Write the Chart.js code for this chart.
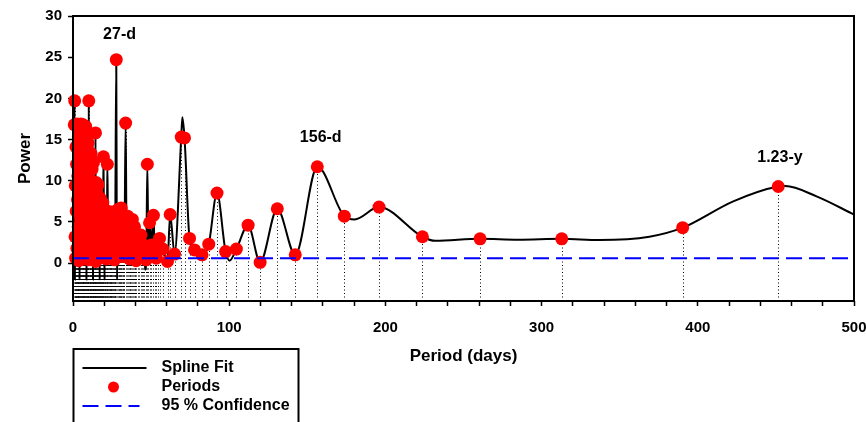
<!DOCTYPE html>
<html>
<head>
<meta charset="utf-8">
<script src="https://cdn.jsdelivr.net/npm/chart.js@4.4.1/dist/chart.umd.min.js"></script>
<style>
  html, body { margin: 0; padding: 0; background: #fff; }
  #wrap { width: 866px; height: 422px; position: relative; }
</style>
</head>
<body>
<div id="wrap"><canvas id="chart"></canvas></div>
<script>
// periodogram peaks: period in days and spectral power
var periodDays = [
  0.8, 1.1, 1.3, 1.5, 1.7, 1.9, 2.1, 2.3, 2.5, 2.7, 2.9, 3.1, 3.3, 3.5, 3.7, 3.9,
  4.1, 4.3, 4.5, 4.7, 4.9, 5.1, 5.3, 5.5, 5.7, 5.9, 6.1, 6.3, 6.5, 6.7, 6.9, 7.1,
  7.3, 7.5, 7.7, 7.9, 8.1, 8.3, 8.5, 8.7, 8.9, 9.1, 9.3, 9.5, 9.7, 9.9, 10.1, 10.3,
  10.6, 10.8, 11.0, 11.2, 11.4, 11.6, 11.8, 12.0, 12.2, 12.5, 12.7, 12.9, 13.1, 13.4,
  13.6, 13.8, 14.0, 14.4, 14.6, 14.8, 15.0, 15.3, 15.6, 15.9, 16.1, 16.4, 16.7, 17.0,
  17.3, 17.6, 17.9, 18.2, 18.5, 18.8, 19.1, 19.5, 19.8, 20.1, 20.4, 20.7, 21.0, 21.3,
  21.6, 22.0, 22.3, 22.6, 23.0, 23.4, 23.8, 24.2, 24.6, 25.0, 25.4, 25.8, 26.2, 26.6,
  27.0, 27.7, 28.7, 29.2, 29.8, 30.3, 30.9, 31.5, 32.2, 32.9, 33.7, 35.0, 36.2, 37.3,
  38.3, 39.4, 40.4, 41.5, 43.5, 44.6, 46.9, 47.6, 49.0, 51.5, 53.3, 55.4, 57.5, 60.5,
  62.2, 65.0, 69.3, 71.4, 74.6, 77.8, 82.6, 86.9, 92.2, 97.7, 104.6, 112.1, 119.8, 130.8,
  142.3, 156.4, 173.7, 195.9, 223.7, 260.6, 312.9, 390.3, 451.5,
  // crowded short-period band
  12.3, 13.3, 14.2, 15.2, 16.2, 16.9, 18.0, 18.6, 19.3, 20.6, 21.8, 22.8, 23.6, 24.4,
  25.2, 26.0, 26.9, 28.0, 29.5, 30.6, 31.9, 32.6, 34.3, 35.6, 36.8, 38.0, 39.0, 40.0,
  42.4, 44.0, 45.4, 48.3, 50.2, 52.3, 54.3
];
var periodPower = [
  16.8, 19.7, 3.2, 9.4, 0.6, 14.1, 6.3, 12.0, 1.8, 16.9, 7.7, 10.6, 4.4, 15.4, 0.3, 13.0,
  8.5, 16.7, 2.6, 11.3, 5.4, 16.9, 9.9, 1.2, 14.6, 7.0, 12.7, 3.6, 16.8, 8.1, 0.5, 15.2,
  10.4, 4.9, 13.6, 2.1, 16.6, 6.0, 11.8, 0.9, 15.9, 9.0, 13.9, 3.0, 14.6, 7.4, 19.7, 0.4,
  5.6, 12.9, 1.5, 10.1, 4.0, 13.3, 7.9, 0.8, 11.4, 2.8, 9.2, 5.1, 12.2, 1.1,
  8.4, 3.7, 6.5, 15.8, 0.2, 9.8, 4.5, 7.3, 1.9, 5.9, 9.5, 2.4, 6.8, 0.7,
  7.9, 3.3, 5.2, 1.3, 6.4, 2.9, 7.3, 12.9, 4.6, 0.9, 6.1, 2.2, 5.0, 0.5,
  3.9, 12.0, 6.3, 1.4, 4.8, 2.6, 5.9, 0.6, 4.1, 6.2, 1.7, 3.5, 5.3, 0.4,
  2.9, 24.7, 6.5, 1.2, 4.0, 2.3, 6.7, 0.8, 4.6, 2.5, 17.0, 5.7, 0.5, 2.8,
  1.2, 4.4, 0.3, 2.0, 3.4, 0.8, 0.4, 12.0, 4.9, 5.8, 0.6, 3.0, 1.7, 0.2,
  5.9, 1.1, 15.3, 15.2, 3.0, 1.6, 1.0, 2.3, 8.5, 1.4, 1.7, 4.6, 0.1, 6.6,
  1.0, 11.7, 5.7, 6.8, 3.2, 2.95, 2.95, 4.3, 9.3,
  6.2, 9.8, 2.9, 8.6, 4.1, 3.6, 7.1, 4.2, 5.8, 4.3, 5.6, 3.3, 1.0, 5.2,
  2.9, 4.6, 1.8, 4.4, 5.6, 3.6, 2.0, 5.3, 3.6, 4.1, 1.9, 5.3, 2.6, 3.5,
  1.4, 2.4, 2.0, 1.0, 2.2, 1.6, 1.8
];

// extra vertices of the spline fit where it over/undershoots between the periods
var splineDays = [1.2, 4.2, 8.6, 12.8, 17.1, 20.2, 28.2, 46.2, 70.0, 100.3, 180.3, 232, 285, 337, 369, 422.7, 456, 476, 500];
var splinePower = [-2.0, -2.0, -2.0, -2.0, -2.0, -2.0, -2.0, -0.8, 17.7, 0.3, 5.3, 2.7, 2.85, 2.8, 3.2, 7.5, 9.35, 8.1, 5.9];

var confidence95 = 0.6;

var peakLabels = ['27-d', '156-d', '1.23-y'];
var peakLabelDays = [29.8, 158.6, 452.6];
var peakLabelPower = [27.7, 15.2, 12.8];

var xTickLabels = [0, 100, 200, 300, 400, 500];
var yTickLabels = [0, 5, 10, 15, 20, 25, 30];

var FONT = "'Liberation Sans', Arial, sans-serif";

var periodPoints = periodDays.map(function (d, i) { return { x: d, y: periodPower[i] }; })
  .sort(function (a, b) { return a.x - b.x; });
var splinePoints = periodPoints.concat(splineDays.map(function (d, i) {
  return { x: d, y: splinePower[i] };
})).sort(function (a, b) { return a.x - b.x; });

// dotted drop lines from the bottom of the plot up to every period
var dropLines = {
  id: 'dropLines',
  beforeDatasetsDraw: function (chart) {
    var ctx = chart.ctx, xs = chart.scales.x, ys = chart.scales.y;
    var bottom = ys.getPixelForValue(ys.min);
    ctx.save();
    ctx.strokeStyle = '#000';
    ctx.lineWidth = 1;
    ctx.setLineDash([1, 2.5]);
    periodPoints.forEach(function (p) {
      var px = Math.round(xs.getPixelForValue(p.x)) + 0.5;
      ctx.beginPath();
      ctx.moveTo(px, bottom);
      ctx.lineTo(px, ys.getPixelForValue(p.y));
      ctx.stroke();
    });
    ctx.restore();
  }
};

var frameAndNotes = {
  id: 'frameAndNotes',
  afterDatasetsDraw: function (chart) {
    var ctx = chart.ctx, a = chart.chartArea, xs = chart.scales.x, ys = chart.scales.y;
    ctx.save();
    ctx.strokeStyle = '#000';
    ctx.lineWidth = 2;
    ctx.strokeRect(a.left, a.top, a.right - a.left, a.bottom - a.top);
    ctx.fillStyle = '#000';
    ctx.font = 'bold 16px ' + FONT;
    ctx.textAlign = 'center';
    ctx.textBaseline = 'middle';
    peakLabels.forEach(function (t, i) {
      ctx.fillText(t, xs.getPixelForValue(peakLabelDays[i]), ys.getPixelForValue(peakLabelPower[i]));
    });
    ctx.restore();
  }
};

var boxLegend = {
  id: 'boxLegend',
  afterDraw: function (chart) {
    var ctx = chart.ctx, left = chart.chartArea.left + 0.5, top = 349;
    var rows = [368, 387, 406];
    ctx.save();
    ctx.lineWidth = 2;
    ctx.strokeStyle = '#000';
    ctx.strokeRect(left, top, 225, 90);
    chart.data.datasets.forEach(function (ds, i) {
      var y = rows[i];
      ctx.save();
      if (i === 1) {
        ctx.fillStyle = ds.backgroundColor;
        ctx.beginPath();
        ctx.arc(left + 40, y, 5.5, 0, Math.PI * 2);
        ctx.fill();
      } else {
        ctx.strokeStyle = ds.borderColor;
        ctx.lineWidth = 2;
        ctx.setLineDash(ds.borderDash || []);
        ctx.beginPath();
        ctx.moveTo(left + 9, y);
        ctx.lineTo(left + (ds.borderDash ? 66 : 73), y);
        ctx.stroke();
      }
      ctx.restore();
      ctx.fillStyle = '#000';
      ctx.font = 'bold 16px ' + FONT;
      ctx.textBaseline = 'middle';
      ctx.fillText(ds.label, left + 88, y);
    });
    ctx.restore();
  }
};

new Chart(document.getElementById('chart'), {
  type: 'scatter',
  data: {
    datasets: [
      {
        label: 'Spline Fit',
        type: 'line',
        data: splinePoints,
        borderColor: '#000',
        borderWidth: 2,
        pointRadius: 0,
        cubicInterpolationMode: 'monotone',
        order: 3
      },
      {
        label: 'Periods',
        data: periodPoints,
        backgroundColor: '#ff0000',
        borderWidth: 0,
        pointRadius: 6.5,
        clip: false,
        order: 2
      },
      {
        label: '95 % Confidence',
        type: 'line',
        data: [{ x: 0, y: confidence95 }, { x: 500, y: confidence95 }],
        borderColor: '#0000ff',
        borderWidth: 2,
        borderDash: [16, 7],
        pointRadius: 0,
        order: 1
      }
    ]
  },
  options: {
    responsive: true,
    maintainAspectRatio: false,
    animation: false,
    events: [],
    layout: { padding: { top: 16, right: 12, left: 0, bottom: 0 } },
    plugins: { legend: { display: false }, tooltip: { enabled: false } },
    scales: {
      x: {
        type: 'linear',
        min: 0,
        max: 500,
        border: { display: false },
        grid: { drawOnChartArea: false, tickLength: 5, tickWidth: 1.5, tickColor: '#000' },
        ticks: {
          stepSize: 20,
          autoSkip: false,
          maxRotation: 0,
          padding: 13,
          color: '#000',
          font: { family: FONT, size: 15, weight: 'bold' },
          callback: function (v) { return xTickLabels.indexOf(v) >= 0 ? String(v) : ''; }
        },
        title: {
          display: true,
          text: 'Period (days)',
          color: '#000',
          font: { family: FONT, size: 17, weight: 'bold' },
          padding: { top: 0, bottom: 55 }
        },
        afterFit: function (s) {
          s.height = 121;
          s.paddingLeft = 0;
          s.paddingRight = 0;
        }
      },
      y: {
        type: 'linear',
        min: -4.6,
        max: 30,
        border: { display: false },
        grid: { drawOnChartArea: false, tickLength: 5, tickWidth: 1.5, tickColor: '#000' },
        ticks: {
          stepSize: 5,
          padding: 6,
          color: '#000',
          font: { family: FONT, size: 15, weight: 'bold' }
        },
        afterBuildTicks: function (s) {
          s.ticks = s.ticks.filter(function (t) { return yTickLabels.indexOf(t.value) >= 0; });
        },
        title: {
          display: true,
          text: 'Power',
          color: '#000',
          font: { family: FONT, size: 17, weight: 'bold' },
          padding: { top: 15, bottom: 0 }
        },
        afterFit: function (s) {
          s.width = 73;
          s.paddingTop = 0;
          s.paddingBottom = 0;
        }
      }
    }
  },
  plugins: [dropLines, frameAndNotes, boxLegend]
});
</script>
</body>
</html>
